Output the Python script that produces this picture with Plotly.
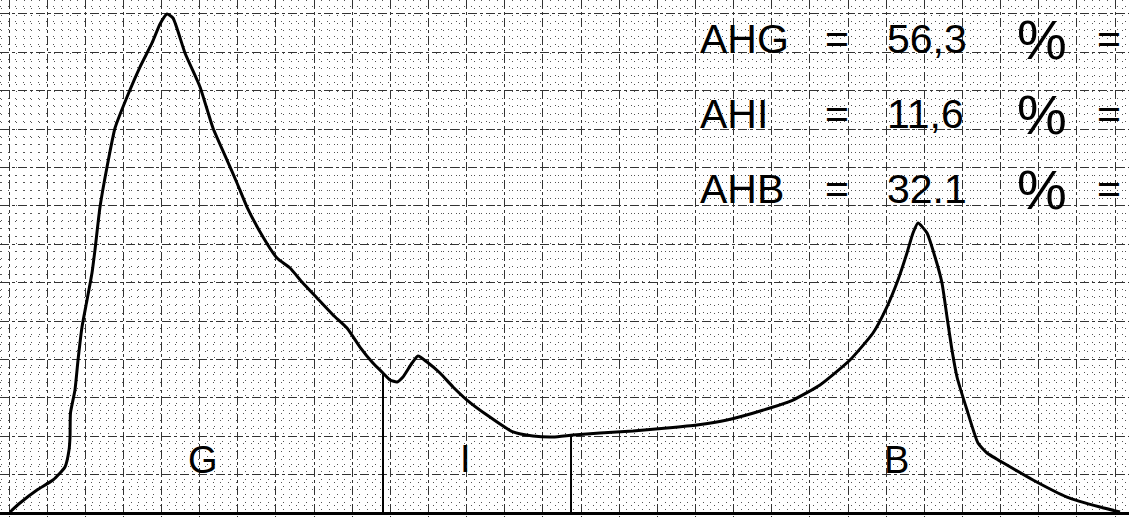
import plotly.graph_objects as go

# Densitometer trace (units = small squares)
curve_x = [0.13, 1.44, 3.67, 5.77, 7.34, 7.87, 8.00, 8.06, 8.65, 9.05, 9.57, 10.23, 10.88,
           11.27, 11.93, 12.85, 13.90, 15.47, 17.17, 18.75, 19.80, 20.71, 21.50, 23.07,
           25.04, 26.74, 28.58, 29.89, 31.20, 33.30, 35.13, 36.84, 38.41, 40.38, 42.48,
           44.31, 46.01, 47.71, 49.03, 49.95, 50.87, 51.65, 52.83, 53.62, 54.80, 56.50,
           58.21, 60.04, 62.66, 66.07, 68.69, 71.32, 73.94, 77.48, 81.80, 86.26, 90.19,
           94.13, 99.76, 102.78, 106.32, 110.25, 113.27, 115.08, 116.54, 117.72, 118.51,
           119.17, 120.35, 121.40, 122.31, 122.97, 123.62, 124.28, 125.59, 127.03,
           128.21, 130.83, 134.24, 138.70, 143.03, 145.65]
curve_y = [0.13, 1.30, 2.99, 4.30, 5.99, 8.20, 9.90, 13.02, 16.02, 19.92, 24.22, 27.73, 31.25,
           34.24, 39.84, 45.05, 50.13, 54.17, 58.07, 61.20, 63.67, 64.97, 64.45, 59.90,
           55.47, 50.13, 45.96, 42.97, 39.84, 35.94, 33.20, 31.90, 30.08, 27.99, 25.78,
           24.09, 21.61, 19.53, 18.23, 17.32, 17.06, 17.71, 19.53, 20.44, 19.66, 18.23,
           16.41, 14.71, 12.76, 10.55, 10.03, 9.90, 10.16, 10.42, 10.68, 11.07, 11.46,
           12.11, 13.67, 14.71, 16.67, 19.92, 23.44, 26.82, 30.34, 33.85, 36.46,
           37.76, 36.46, 33.33, 29.95, 25.52, 21.22, 17.71, 13.41, 9.11,
           7.81, 6.25, 4.30, 2.08, 0.78, 0.13]

# Fraction boundaries (x position, height of curve there)
boundary_x = [49.03, 73.68]
boundary_top = [18.23, 10.10]

# Fraction labels
frac_labels = ["G", "I", "B"]
frac_x = [25.38, 59.78, 116.41]
frac_y = [6.90, 7.03, 6.90]

# Results
res_names = ["AHG", "AHI", "AHB"]
res_values = ["56,3", "11,6", "32.1"]

# pixel <-> unit conversion for layout placement
PX0, PXU = 9.0, 7.628
PY0, PYU = 513.0, 7.68
def ux(px):
    return (px - PX0) / PXU
def uy(py):
    return (PY0 - py) / PYU

fig = go.Figure()

for bx, bt in zip(boundary_x, boundary_top):
    fig.add_trace(go.Scatter(x=[bx, bx], y=[0, bt], mode="lines",
                             line=dict(color="black", width=2), showlegend=False,
                             hoverinfo="skip"))

fig.add_trace(go.Scatter(x=curve_x, y=curve_y, mode="lines",
                         line=dict(color="black", width=3, shape="spline", smoothing=0.5),
                         showlegend=False))

font_family = "Liberation Sans, Arial, sans-serif"

for lab, lx, ly in zip(frac_labels, frac_x, frac_y):
    fig.add_annotation(x=lx, y=ly, text=lab, showarrow=False,
                       font=dict(family=font_family, size=38, color="black"),
                       xanchor="center", yanchor="middle")

row_py = [39, 114, 189]
col_px = [698, 823, 885, 1015, 1095]
for name, val, py in zip(res_names, res_values, row_py):
    toks = [name, "=", val, "%", "="]
    sizes = [41, 41, 41, 56, 41]
    for t, px, s in zip(toks, col_px, sizes):
        fig.add_annotation(x=ux(px), y=uy(py), text=t, showarrow=False,
                           font=dict(family=font_family, size=s, color="black"),
                           xanchor="left", yanchor="middle")

minor = dict(dtick=1, tick0=0, showgrid=True, gridcolor="#555555",
             griddash="1px,6.6px", gridwidth=1, ticks="")

fig.update_layout(
    width=1129, height=517,
    margin=dict(l=0, r=0, t=0, b=0),
    paper_bgcolor="white", plot_bgcolor="white",
    xaxis=dict(range=[ux(0), ux(1129)], dtick=5, tick0=0, showgrid=True,
               gridcolor="#333333", griddash="dashdot", gridwidth=1,
               showticklabels=False, zeroline=False, showline=False, minor=minor),
    yaxis=dict(range=[uy(517), uy(0)], dtick=5, tick0=0, showgrid=True,
               gridcolor="#333333", griddash="dashdot", gridwidth=1,
               showticklabels=False, zeroline=True, zerolinecolor="black",
               zerolinewidth=3, showline=False, minor=minor),
)

fig.write_html("out.html", config={"displayModeBar": False},
               post_script="document.body.style.margin='0';")
